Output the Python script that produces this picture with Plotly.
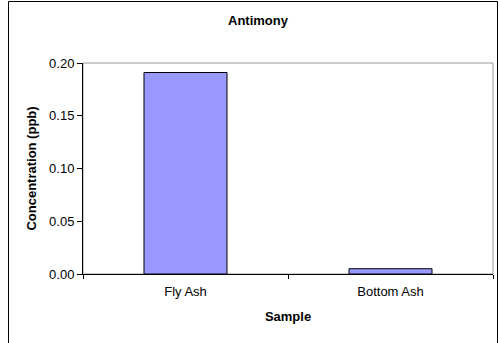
import plotly.graph_objects as go

samples = ["Fly Ash", "Bottom Ash"]
concentration = [0.191, 0.005]
y_ticks = [0.00, 0.05, 0.10, 0.15, 0.20]

FONT = "Liberation Sans, Arial, sans-serif"
FS = 13

fig = go.Figure(
    go.Bar(
        x=samples,
        y=concentration,
        marker=dict(color="#9999FF", line=dict(color="#000000", width=1)),
        width=0.405,
    )
)

fig.update_layout(
    width=499,
    height=343,
    margin=dict(l=83, r=6, t=63, b=69),
    paper_bgcolor="white",
    plot_bgcolor="white",
    showlegend=False,
    font=dict(family=FONT, size=FS, color="#000000"),
    title=dict(
        text="<b>Antimony</b>",
        x=0.517,
        xanchor="center",
        y=1 - 20 / 343,
        yanchor="middle",
        font=dict(family=FONT, size=FS, color="#000000"),
    ),
    xaxis=dict(
        type="category",
        showline=True,
        linecolor="#000000",
        linewidth=1,
        ticks="outside",
        tickson="boundaries",
        ticklen=4,
        tickcolor="#000000",
        ticklabelstandoff=5,
        showgrid=False,
        title=dict(text="<b>Sample</b>", standoff=14, font=dict(size=FS)),
        tickfont=dict(size=FS),
    ),
    yaxis=dict(
        range=[0, 0.2],
        tickvals=y_ticks,
        tickformat=".2f",
        showline=True,
        linecolor="#000000",
        linewidth=1,
        ticks="outside",
        ticklen=5,
        tickcolor="#000000",
        showgrid=False,
        zeroline=False,
        title=dict(text="<b>Concentration (ppb)</b>", standoff=9, font=dict(size=FS)),
        tickfont=dict(size=FS),
    ),
    shapes=[
        # light grey plot-area border (top and right edges)
        dict(
            type="rect", xref="paper", yref="paper", x0=0, x1=1, y0=0, y1=1,
            line=dict(color="#9a9a9a", width=1), layer="below",
        ),
        # outer chart frame
        dict(
            type="rect", xref="paper", yref="paper",
            x0=(8.5 - 83) / 410, x1=(497.5 - 83) / 410,
            y0=(274 - 350) / 211, y1=(274 - 1.5) / 211,
            line=dict(color="#000000", width=1), layer="below",
        ),
    ],
)

fig.write_html("out.html")
